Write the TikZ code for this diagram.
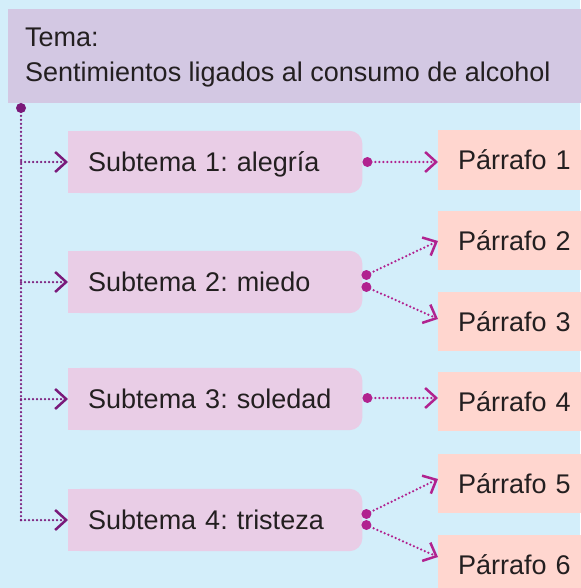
\documentclass[tikz,border=0pt]{standalone}
\usepackage{fontspec}
\setmainfont{Liberation Sans}
\frenchspacing
\usetikzlibrary{arrows.meta,backgrounds,calc}
\definecolor{bgblue}{HTML}{D3EEFA}
\definecolor{temafill}{HTML}{D3C8E3}
\definecolor{subfill}{HTML}{E9CDE6}
\definecolor{parfill}{HTML}{FFD6CF}
\definecolor{leftcol}{HTML}{7A1A7A}
\definecolor{rightcol}{HTML}{B1228F}
\definecolor{txtcol}{HTML}{231F20}
\tikzset{
  x=1pt, y=-1pt,
  basetxt/.style={font=\fontsize{27}{32}\selectfont, text=txtcol},
  subbox/.style={basetxt, anchor=west, inner xsep=20pt, inner ysep=0pt,
    text width=254pt, align=left, minimum height=62pt, text height=19pt, text depth=0pt},
  parbox/.style={basetxt, anchor=west, fill=parfill, inner xsep=20pt, inner ysep=0pt,
    text width=140pt, align=left, minimum height=59pt, text height=19pt, text depth=0pt},
  temabox/.style={fill=temafill, anchor=north west, minimum width=590pt, minimum height=94pt, inner sep=0pt},
  plaintxt/.style={basetxt, anchor=base west, inner sep=0pt},
  chev/.style={-{Straight Barb[length=11pt,width=20pt,line width=2.5pt,line cap=butt]}},
  trunkline/.style={leftcol, line width=2.5pt, line cap=round, dash pattern=on 0pt off 4pt},
  leftline/.style={trunkline, chev},
  rightline/.style={rightcol, line width=2.5pt, line cap=round, dash pattern=on 0pt off 4pt, chev},
  leftdot/.style={fill=leftcol},
  rightdot/.style={fill=rightcol},
}
\begin{document}
\begin{tikzpicture}
\useasboundingbox (0,0) rectangle (580,588);

% Tema
\node[temabox] (tema) at (8,9) {};
\node[plaintxt] (temaA) at (25,47) {Tema:};
\node[plaintxt] (temaB) at (25,82) {Sentimientos ligados al consumo de alcohol};

% Subtemas
\node[subbox] (s1) at (68,162) {Subtema 1: alegría};
\node[subbox] (s2) at (68,282) {Subtema 2: miedo};
\node[subbox] (s3) at (68,399) {Subtema 3: soledad};
\node[subbox] (s4) at (68,520) {Subtema 4: tristeza};

\begin{scope}[on background layer]
\fill[bgblue] (0,0) rectangle (580,588);
\foreach \s in {s1,s2,s3,s4}{
  \fill[subfill, rounded corners=13pt] (\s.north west) rectangle (\s.south east);
  \fill[subfill] (\s.north west) rectangle (\s.south);
}
\end{scope}

% Parrafos
\node[parbox] (p1) at (438,160) {Párrafo 1};
\node[parbox] (p2) at (438,240.5) {Párrafo 2};
\node[parbox] (p3) at (438,321.5) {Párrafo 3};
\node[parbox] (p4) at (438,401.5) {Párrafo 4};
\node[parbox] (p5) at (438,483.5) {Párrafo 5};
\node[parbox] (p6) at (438,564.5) {Párrafo 6};

% trunk
\coordinate (trunk) at (21,108);
\coordinate (trunkend) at (21,520);
\draw[trunkline] (trunk) -- (trunkend);
\fill[leftdot] (trunk) circle (5pt);
\foreach \s in {s1,s2,s3,s4}{
  \draw[leftline] (trunk |- \s.west) -- (\s.west);
}

% right connectors
\coordinate (d1) at ($(s1.east)+(5,0)$);
\coordinate (t1) at ($(p1.west)+(0,2)$);
\draw[rightline] (d1) -- (t1);
\fill[rightdot] (d1) circle (5pt);

\coordinate (d2a) at ($(s2.east)+(4,-7)$);
\coordinate (d2b) at ($(s2.east)+(4,5)$);
\coordinate (t2) at ($(p2.west)+(0,0.5)$);
\coordinate (t3) at ($(p3.west)+(0,-2.5)$);
\draw[rightline] (d2a) -- (t2);
\draw[rightline] (d2b) -- (t3);
\fill[rightdot] (d2a) circle (5pt);
\fill[rightdot] (d2b) circle (5pt);

\coordinate (d3) at ($(s3.east)+(5,-1)$);
\coordinate (t4) at ($(p4.west)+(0,-3.5)$);
\draw[rightline] (d3) -- (t4);
\fill[rightdot] (d3) circle (5pt);

\coordinate (d4a) at ($(s4.east)+(4,-6)$);
\coordinate (d4b) at ($(s4.east)+(4,5)$);
\coordinate (t5) at ($(p5.west)+(0,-4.5)$);
\coordinate (t6) at ($(p6.west)+(0,-7.5)$);
\draw[rightline] (d4a) -- (t5);
\draw[rightline] (d4b) -- (t6);
\fill[rightdot] (d4a) circle (5pt);
\fill[rightdot] (d4b) circle (5pt);
\end{tikzpicture}
\end{document}
